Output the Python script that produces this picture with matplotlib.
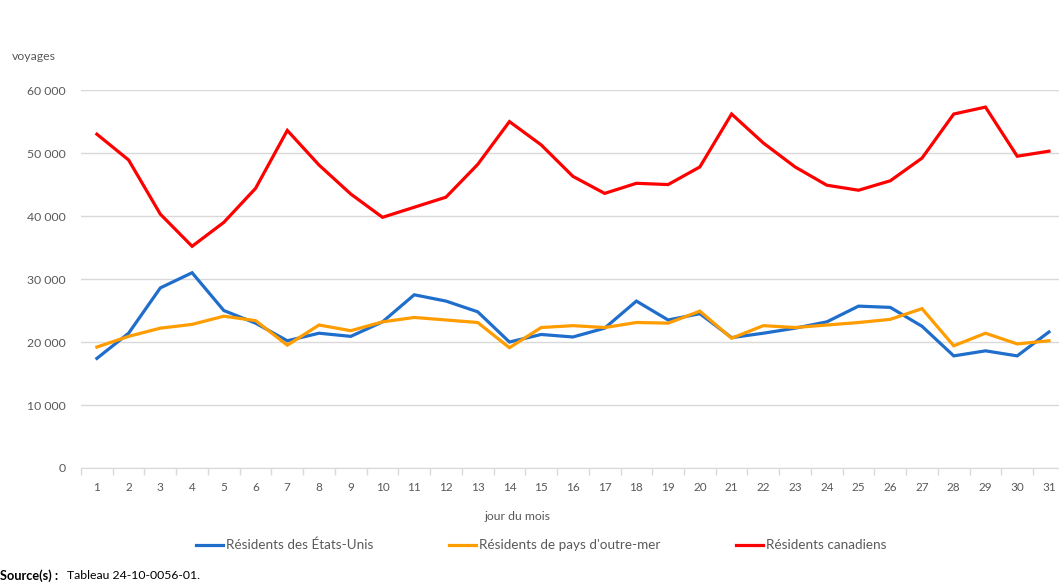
import matplotlib.pyplot as plt
from matplotlib.ticker import FuncFormatter, FixedLocator

# Données
jours = list(range(1, 32))
etats_unis = [17400, 21400, 28600, 31000, 25000, 23000, 20200, 21400, 20900, 23200,
              27500, 26500, 24800, 20000, 21200, 20800, 22200, 26500, 23500, 24500,
              20700, 21400, 22200, 23200, 25700, 25500, 22500, 17800, 18600, 17800,
              21600]
outre_mer = [19200, 20900, 22200, 22800, 24100, 23400, 19500, 22700, 21800, 23200,
             23900, 23500, 23100, 19100, 22300, 22600, 22300, 23100, 23000, 24900,
             20600, 22600, 22300, 22700, 23100, 23600, 25300, 19400, 21400, 19700,
             20200]
canadiens = [53000, 48900, 40300, 35200, 39000, 44400, 53600, 48100, 43500, 39800,
             41400, 43000, 48200, 55000, 51300, 46300, 43600, 45200, 45000, 47800,
             56200, 51600, 47800, 44900, 44100, 45600, 49200, 56200, 57300, 49500,
             50300]
noms = ["Résidents des États-Unis", "Résidents de pays d'outre-mer", "Résidents canadiens"]
couleurs = ['#1F6ECC', '#FF9C00', '#FF0000']

plt.rcParams['font.family'] = ['Lato', 'DejaVu Sans']

fig = plt.figure(figsize=(10.59, 5.85), dpi=100)
ax = fig.add_axes([0.0765, 0.2, 0.929, 0.646])

for serie, nom, c in zip([etats_unis, outre_mer, canadiens], noms, couleurs):
    ax.plot(jours, serie, color=c, linewidth=2.3, label=nom, solid_joinstyle='miter')

ax.set_xlim(0.5, 31.5)
ax.set_ylim(0, 60000)
ax.set_yticks(range(0, 60001, 10000))
ax.yaxis.set_major_formatter(FuncFormatter(lambda v, p: f"{int(v):,}".replace(",", " ")))
ax.grid(axis='y', color='#d9d9d9', linewidth=1)
ax.set_axisbelow(True)

ax.set_xticks(jours)
ax.xaxis.set_minor_locator(FixedLocator([j + 0.5 for j in range(0, 32)]))
ax.tick_params(axis='x', which='major', length=0, labelsize=8.5, colors='#595959', pad=10)
ax.tick_params(axis='x', which='minor', length=5, color='#d9d9d9', width=1)
ax.tick_params(axis='y', length=0, labelsize=8.8, colors='#595959', pad=11)

for s in ['top', 'right', 'left']:
    ax.spines[s].set_visible(False)
ax.spines['bottom'].set_color('#d9d9d9')

fig.text(0.011, 0.904, 'voyages', fontsize=8.8, color='#595959', va='center')
fig.text(0.489, 0.117, 'jour du mois', fontsize=8.8, color='#595959', ha='center', va='center')

fig.legend(loc='center', bbox_to_anchor=(0.511, 0.068), ncol=3, frameon=False,
           fontsize=9.7, handlelength=2.0, columnspacing=5.6, handletextpad=0.25,
           labelcolor='#595959')

fig.text(0.0, 0.016, 'Source(s) :', fontsize=9.2, fontweight='bold', va='center')
fig.text(0.063, 0.016, 'Tableau 24-10-0056-01.', fontsize=8.8, va='center')

fig.savefig('out.png', dpi=100)
